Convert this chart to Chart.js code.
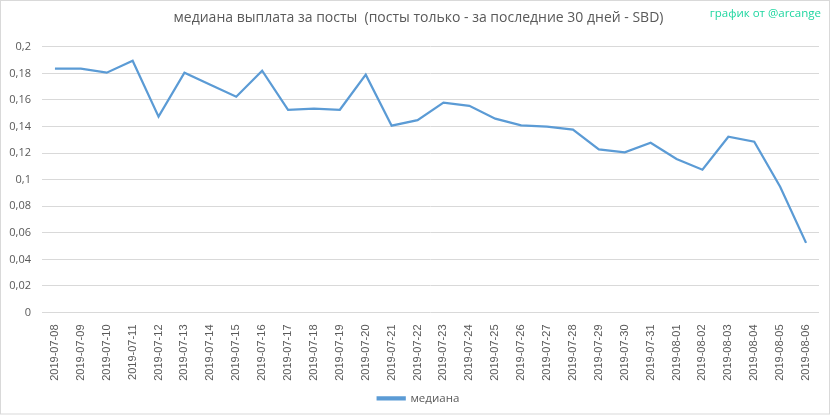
<!DOCTYPE html>
<html>
<head>
<meta charset="utf-8">
<script src="https://cdn.jsdelivr.net/npm/chart.js@4.4.1/dist/chart.umd.min.js"></script>
<style>
  body { margin: 0; background: #fff; }
  #wrap { width: 833px; height: 416px; }
</style>
</head>
<body>
<div id="wrap"><canvas id="grafico" width="833" height="416"></canvas></div>
<script>
// datas (eixo x)
const dias = [
  "2019-07-08", "2019-07-09", "2019-07-10", "2019-07-11", "2019-07-12",
  "2019-07-13", "2019-07-14", "2019-07-15", "2019-07-16", "2019-07-17",
  "2019-07-18", "2019-07-19", "2019-07-20", "2019-07-21", "2019-07-22",
  "2019-07-23", "2019-07-24", "2019-07-25", "2019-07-26", "2019-07-27",
  "2019-07-28", "2019-07-29", "2019-07-30", "2019-07-31", "2019-08-01",
  "2019-08-02", "2019-08-03", "2019-08-04", "2019-08-05", "2019-08-06"
];

// mediana (SBD)
const mediana = [
  0.1835, 0.1835, 0.1805, 0.1895, 0.1474,
  0.1805, 0.1715, 0.1624, 0.1820, 0.1526,
  0.1534, 0.1526, 0.1790, 0.1406, 0.1448,
  0.1580, 0.1556, 0.1459, 0.1408, 0.1400,
  0.1376, 0.1228, 0.1205, 0.1278, 0.1156,
  0.1075, 0.1323, 0.1286, 0.0947, 0.0524
];

const yMin = 0;
const yMax = 0.2;
const yPasso = 0.02;

const corLinha = '#5b9bd5';
const corTexto = '#595959';

// marca d'agua + moldura
const extras = {
  id: 'extras',
  afterLayout(chart) {
    // título e legenda um pouco à direita, como no original
    [chart.titleBlock, chart.legend].forEach(b => {
      if (b) { b.left += 9; b.right += 9; }
    });
  },
  afterDraw(chart) {
    const ctx = chart.ctx;
    ctx.save();
    ctx.strokeStyle = '#d9d9d9';
    ctx.lineWidth = 1;
    ctx.strokeRect(0.5, 0.5, 829, 413.5);
    ctx.fillStyle = '#1fd6a0';
    ctx.font = '11.5px "Open Sans", sans-serif';
    ctx.textAlign = 'right';
    ctx.textBaseline = 'middle';
    ctx.fillText('график от @arcange', 821, 14);
    ctx.restore();
  }
};

new Chart(document.getElementById('grafico'), {
  type: 'line',
  data: {
    labels: dias,
    datasets: [{
      label: 'медиана',
      data: mediana,
      borderColor: corLinha,
      backgroundColor: corLinha,
      borderWidth: 2.25,
      pointRadius: 0,
      tension: 0,
      fill: false
    }]
  },
  options: {
    responsive: false,
    animation: false,
    devicePixelRatio: 1,
    layout: { padding: { left: 0, right: 14, top: 0, bottom: 2 } },
    plugins: {
      title: {
        display: true,
        text: 'медиана выплата за посты  (посты только - за последние 30 дней - SBD)',
        color: corTexto,
        font: { size: 14, weight: 'normal', family: '"Open Sans", sans-serif' },
        padding: { top: 10, bottom: 20 }
      },
      legend: {
        position: 'bottom',
        labels: {
          color: corTexto,
          boxWidth: 27,
          boxHeight: 2,
          font: { size: 11.5, family: '"Open Sans", sans-serif' },
          padding: 10
        }
      },
      tooltip: { enabled: false }
    },
    scales: {
      x: {
        offset: true,
        grid: { display: false },
        border: { display: false },
        ticks: {
          color: corTexto,
          minRotation: 90,
          maxRotation: 90,
          autoSkip: false,
          padding: 4,
          font: { size: 11, family: '"Liberation Sans", sans-serif' }
        },
        afterFit(scale) { scale.height = 70; }
      },
      y: {
        min: yMin,
        max: yMax,
        grid: { color: '#d9d9d9', drawTicks: false },
        border: { display: false },
        ticks: {
          stepSize: yPasso,
          color: corTexto,
          padding: 11,
          font: { size: 11, family: '"Open Sans", sans-serif' },
          callback: v => Number(v.toFixed(2)).toString().replace('.', ',')
        },
        afterFit(scale) { scale.width = 42; }
      }
    }
  },
  plugins: [extras]
});
</script>
</body>
</html>
